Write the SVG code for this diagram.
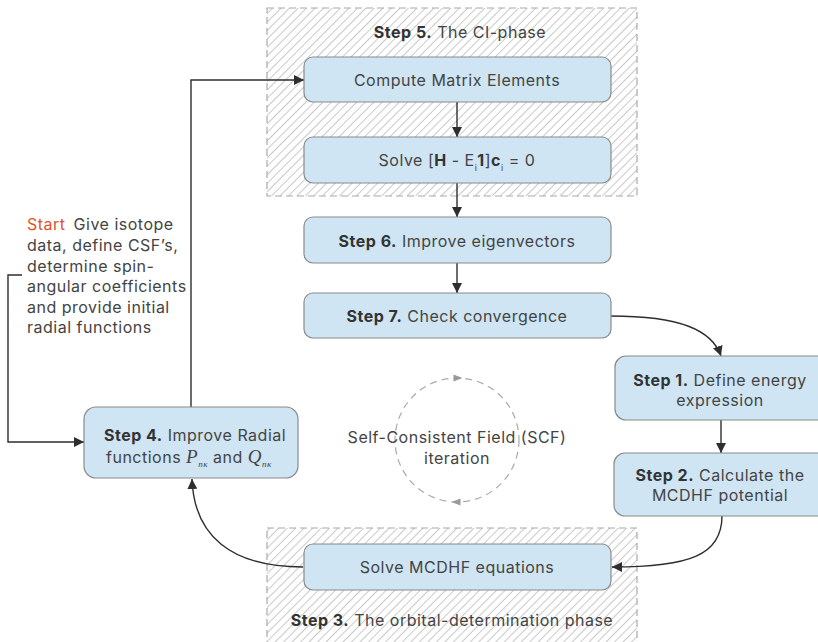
<svg xmlns="http://www.w3.org/2000/svg" width="818" height="642" viewBox="0 0 818 642">
<defs>
<pattern id="hatch" width="6" height="6" patternUnits="userSpaceOnUse" patternTransform="rotate(45)">
<line x1="0" y1="0" x2="0" y2="6" stroke="#9c9c9c" stroke-width="1.1"/>
</pattern>
<marker id="arr" viewBox="0 0 10 10" refX="10" refY="5" markerWidth="10" markerHeight="10" markerUnits="userSpaceOnUse" orient="auto">
<path d="M0,0 L10,5 L0,10 z" fill="#2e2e2e"/>
</marker>
<marker id="arrg" viewBox="0 0 10 10" refX="5" refY="5" markerWidth="12" markerHeight="9" markerUnits="userSpaceOnUse" orient="auto">
<path d="M0,1 L10,5 L0,9 z" fill="#999"/>
</marker>
</defs>
<style>
.phase{fill:url(#hatch);stroke:#aaa;stroke-width:1.2;stroke-dasharray:7 4}
.box{fill:#cfe5f3;stroke:#8a8a8a;stroke-width:1.2}
text{font-family:Inter,"Noto Sans",sans-serif;font-size:16px;fill:#444;letter-spacing:0.5px}
.c{text-anchor:middle}
.b{font-weight:bold;fill:#333}
.conn{fill:none;stroke:#2e2e2e;stroke-width:1.4}
.m{font-family:"Liberation Serif",serif;font-style:italic;font-size:19px}
.sub{font-family:"Liberation Serif",serif;font-style:italic;font-size:9px}
</style>
<rect width="818" height="642" fill="#fff"/>
<g id="phase5">
<rect class="phase" x="267" y="8" width="370" height="188"/>
<text class="c" x="460" y="38"><tspan class="b">Step 5.</tspan> The CI-phase</text>
</g>
<g id="phase3">
<rect class="phase" x="267" y="528" width="370" height="130"/>
<text class="c" x="452" y="626"><tspan class="b">Step 3.</tspan> The orbital-determination phase</text>
</g>
<g id="connectors">
<path class="conn" d="M457,102 V137" marker-end="url(#arr)"/>
<path class="conn" d="M457,183 V217" marker-end="url(#arr)"/>
<path class="conn" d="M457,263 V293" marker-end="url(#arr)"/>
<path class="conn" d="M721,420 V453" marker-end="url(#arr)"/>
<path class="conn" d="M611,316 C680,316 712,330 721,356" marker-end="url(#arr)"/>
<path class="conn" d="M722,516 C722,555 690,567 612,567" marker-end="url(#arr)"/>
<path class="conn" d="M303,567 C230,567 194,535 192,479" marker-end="url(#arr)"/>
<path class="conn" d="M191,407 V80 H304" marker-end="url(#arr)"/>
<path class="conn" d="M22,275 H8 V442 H84" marker-end="url(#arr)"/>
<circle cx="457" cy="440" r="62" fill="none" stroke="#aaa" stroke-width="1.2" stroke-dasharray="7 5"/>
<path d="M448,378 L458,378" fill="none" stroke="none" marker-end="url(#arrg)"/>
<path d="M466,502 L456,502" fill="none" stroke="none" marker-end="url(#arrg)"/>
</g>
<g id="compute">
<rect class="box" x="304" y="57" width="307" height="45" rx="9"/>
<text class="c" x="457" y="86">Compute Matrix Elements</text>
</g>
<g id="solveCI">
<rect class="box" x="304" y="137" width="307" height="46" rx="9"/>
<text class="c" x="457" y="166">Solve [<tspan class="b">H</tspan> - E<tspan font-size="9" dy="5">i</tspan><tspan class="b" dy="-5">1</tspan>]<tspan class="b">c</tspan><tspan font-size="9" dy="5">i</tspan><tspan dy="-5"> = 0</tspan></text>
</g>
<g id="step6">
<rect class="box" x="304" y="217" width="307" height="46" rx="9"/>
<text class="c" x="457" y="247"><tspan class="b">Step 6.</tspan> Improve eigenvectors</text>
</g>
<g id="step7">
<rect class="box" x="304" y="293" width="307" height="45" rx="9"/>
<text class="c" x="457" y="322"><tspan class="b">Step 7.</tspan> Check convergence</text>
</g>
<g id="step1">
<rect class="box" x="615" y="356" width="220" height="64" rx="11"/>
<text class="c" x="720" y="386"><tspan class="b">Step 1.</tspan> Define energy</text>
<text class="c" x="720" y="406">expression</text>
</g>
<g id="step2">
<rect class="box" x="614" y="453" width="220" height="63" rx="11"/>
<text class="c" x="720" y="481"><tspan class="b">Step 2.</tspan> Calculate the</text>
<text class="c" x="720" y="501">MCDHF potential</text>
</g>
<g id="solveMCDHF">
<rect class="box" x="304" y="544" width="307" height="46" rx="9"/>
<text class="c" x="457" y="573">Solve MCDHF equations</text>
</g>
<g id="step4">
<rect class="box" x="84" y="407" width="214" height="71" rx="12"/>
<text x="104" y="441"><tspan class="b">Step 4.</tspan> Improve Radial</text>
<text x="106" y="463">functions <tspan class="m">P</tspan><tspan class="sub" dy="4">nκ</tspan><tspan dy="-4"> and </tspan><tspan class="m">Q</tspan><tspan class="sub" dy="4">nκ</tspan></text>
</g>
<g id="start">
<text x="27" y="230"><tspan fill="#e0532a">Start</tspan><tspan dx="8">Give isotope</tspan></text>
<text x="27" y="251">data, define CSF’s,</text>
<text x="27" y="272">determine spin-</text>
<text x="27" y="292">angular coefficients</text>
<text x="27" y="313">and provide initial</text>
<text x="27" y="333">radial functions</text>
</g>
<g id="scf">
<text class="c" x="457" y="443" fill="#555">Self-Consistent Field (SCF)</text>
<text class="c" x="457" y="464" fill="#555">iteration</text>
</g>
</svg>
